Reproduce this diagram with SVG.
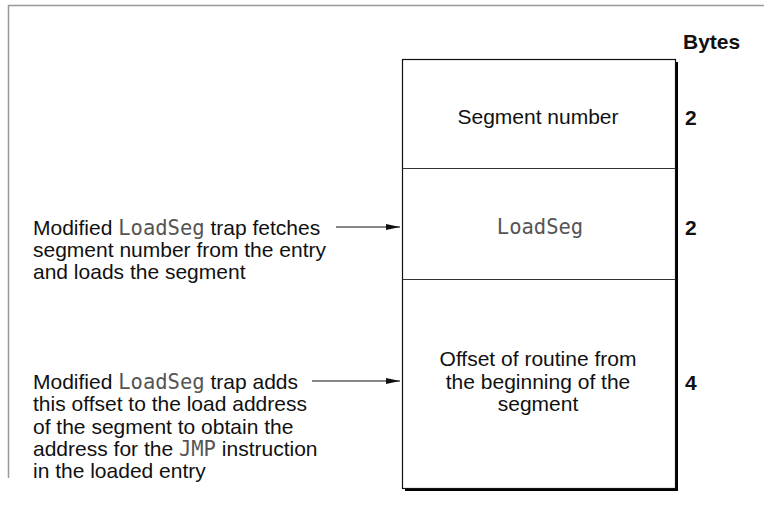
<svg xmlns="http://www.w3.org/2000/svg" width="764" height="522" viewBox="0 0 764 522">
<style>
.t{font-family:"Liberation Sans",Arial,Helvetica,sans-serif;font-size:21px;fill:#111}
.b{font-family:"Liberation Sans",Arial,Helvetica,sans-serif;font-size:21px;font-weight:bold;fill:#111}
.m{font-family:"DejaVu Sans Mono","Liberation Mono",monospace;font-size:20.5px;fill:#555;font-weight:300}
.c{text-anchor:middle}
.box{fill:#fff;stroke:#111;stroke-width:1.2}
.div{stroke:#333;stroke-width:1.2}
.con{stroke:#111;stroke-width:1.2;fill:none}
</style>
<defs>
<marker id="ah" viewBox="0 0 14 8" refX="14" refY="4" markerWidth="14" markerHeight="8" markerUnits="userSpaceOnUse" orient="auto">
<path d="M0,1 L14,4 L0,7 Z" fill="#111"/>
</marker>
</defs>
<path d="M8.5,478 V5.5 H764" fill="none" stroke="#999" stroke-width="1.5"/>
<g id="bytes-header"><text class="b" x="683" y="49">Bytes</text></g>
<g id="record">
<rect x="405" y="62" width="273" height="429" fill="#000"/>
<rect class="box" x="402.5" y="59.5" width="273" height="429"/>
<line class="div" x1="402.5" y1="168.5" x2="675.5" y2="168.5"/>
<line class="div" x1="402.5" y1="279.5" x2="675.5" y2="279.5"/>
</g>
<g id="field-segment-number">
<text class="t c" x="538" y="124">Segment number</text>
<text class="b" x="685" y="125">2</text>
</g>
<g id="field-loadseg">
<text class="m c" x="540" y="234">LoadSeg</text>
<text class="b" x="685" y="235">2</text>
</g>
<g id="field-offset">
<text class="t c" x="538" y="366">Offset of routine from</text>
<text class="t c" x="538" y="389">the beginning of the</text>
<text class="t c" x="538" y="411">segment</text>
<text class="b" x="685" y="390">4</text>
</g>
<g id="note-fetch">
<text class="t" x="33" y="235">Modified <tspan class="m">LoadSeg</tspan> trap fetches</text>
<text class="t" x="33" y="257">segment number from the entry</text>
<text class="t" x="33" y="279">and loads the segment</text>
</g>
<g id="note-adds">
<text class="t" x="33" y="389">Modified <tspan class="m">LoadSeg</tspan> trap adds</text>
<text class="t" x="33" y="411">this offset to the load address</text>
<text class="t" x="33" y="434">of the segment to obtain the</text>
<text class="t" x="33" y="456">address for the <tspan class="m">JMP</tspan> instruction</text>
<text class="t" x="33" y="478">in the loaded entry</text>
</g>
<g id="connectors">
<line class="con" x1="336" y1="227" x2="400" y2="227" marker-end="url(#ah)"/>
<line class="con" x1="312" y1="381" x2="400" y2="381" marker-end="url(#ah)"/>
</g>
</svg>
